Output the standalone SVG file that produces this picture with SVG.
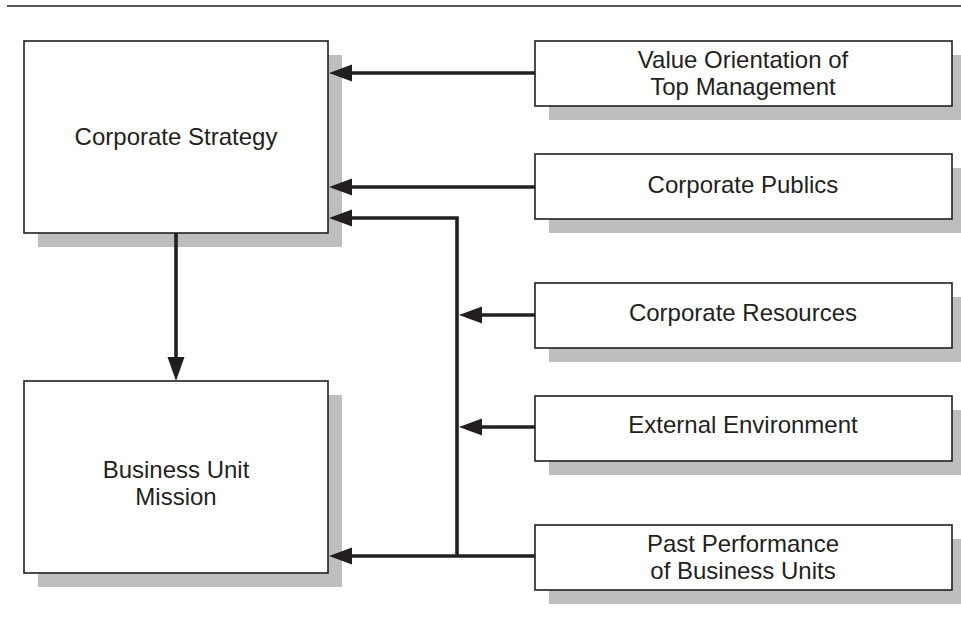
<svg xmlns="http://www.w3.org/2000/svg" xmlns:xlink="http://www.w3.org/1999/xlink" width="961" height="620" viewBox="0 0 961 620">
  <defs>
    <style>
      .shadow { fill: #bcbec0; }
      .box { fill: #ffffff; stroke: #231f20; stroke-width: 1.6; }
      .label { font-family: "Liberation Sans", Arial, Helvetica, sans-serif; font-size: 24px; fill: #231f20; text-anchor: middle; }
      .wire { fill: none; stroke: #231f20; stroke-width: 3.6; stroke-linejoin: miter; }
      .head { fill: #231f20; }
      .rule { stroke: #231f20; stroke-width: 1.6; }
    </style>
    <!-- arrowhead pointing left, tip at the origin -->
    <path id="head-left" d="M0,0 L23,-8.5 L23,8.5 z"/>
    <!-- arrowhead pointing down, tip at the origin -->
    <path id="head-down" d="M0,0 L-8.5,-24 L8.5,-24 z"/>
  </defs>

  <rect width="961" height="620" fill="#ffffff"/>

  <!-- running head rule -->
  <line class="rule" x1="7" y1="6" x2="961" y2="6"/>

  <g id="corporate-strategy">
    <rect class="shadow" x="38" y="55" width="304" height="192"/>
    <rect class="box" x="24" y="41" width="304" height="192"/>
    <text class="label" x="176" y="145">Corporate Strategy</text>
  </g>

  <g id="business-unit-mission">
    <rect class="shadow" x="38" y="395" width="304" height="192"/>
    <rect class="box" x="24" y="381" width="304" height="192"/>
    <text class="label" x="176" y="478">Business Unit</text>
    <text class="label" x="176" y="505">Mission</text>
  </g>

  <g id="value-orientation">
    <rect class="shadow" x="549" y="55" width="420" height="65"/>
    <rect class="box" x="535" y="41" width="417" height="65"/>
    <text class="label" x="743" y="68">Value Orientation of</text>
    <text class="label" x="743" y="95">Top Management</text>
  </g>

  <g id="corporate-publics">
    <rect class="shadow" x="549" y="168" width="420" height="65"/>
    <rect class="box" x="535" y="154" width="417" height="65"/>
    <text class="label" x="743" y="193">Corporate Publics</text>
  </g>

  <g id="corporate-resources">
    <rect class="shadow" x="549" y="297" width="420" height="65"/>
    <rect class="box" x="535" y="283" width="417" height="65"/>
    <text class="label" x="743" y="321">Corporate Resources</text>
  </g>

  <g id="external-environment">
    <rect class="shadow" x="549" y="410" width="420" height="65"/>
    <rect class="box" x="535" y="396" width="417" height="65"/>
    <text class="label" x="743" y="433">External Environment</text>
  </g>

  <g id="past-performance">
    <rect class="shadow" x="549" y="539" width="420" height="65"/>
    <rect class="box" x="535" y="525" width="417" height="65"/>
    <text class="label" x="743" y="552">Past Performance</text>
    <text class="label" x="743" y="579">of Business Units</text>
  </g>

  <!-- connectors, drawn over the box shadows -->
  <g id="connectors">
    <line class="wire" x1="535" y1="73" x2="348" y2="73"/>
    <use class="head" xlink:href="#head-left" href="#head-left" x="329" y="73"/>

    <line class="wire" x1="535" y1="187" x2="348" y2="187"/>
    <use class="head" xlink:href="#head-left" href="#head-left" x="329" y="187"/>

    <path class="wire" d="M457,556 L457,218 L348,218"/>
    <use class="head" xlink:href="#head-left" href="#head-left" x="329" y="218"/>

    <line class="wire" x1="535" y1="315" x2="476" y2="315"/>
    <use class="head" xlink:href="#head-left" href="#head-left" x="459" y="315"/>

    <line class="wire" x1="535" y1="427" x2="476" y2="427"/>
    <use class="head" xlink:href="#head-left" href="#head-left" x="459" y="427"/>

    <line class="wire" x1="535" y1="556" x2="348" y2="556"/>
    <use class="head" xlink:href="#head-left" href="#head-left" x="329" y="556"/>

    <line class="wire" x1="176" y1="233" x2="176" y2="362"/>
    <use class="head" xlink:href="#head-down" href="#head-down" x="176" y="381"/>
  </g>
</svg>
